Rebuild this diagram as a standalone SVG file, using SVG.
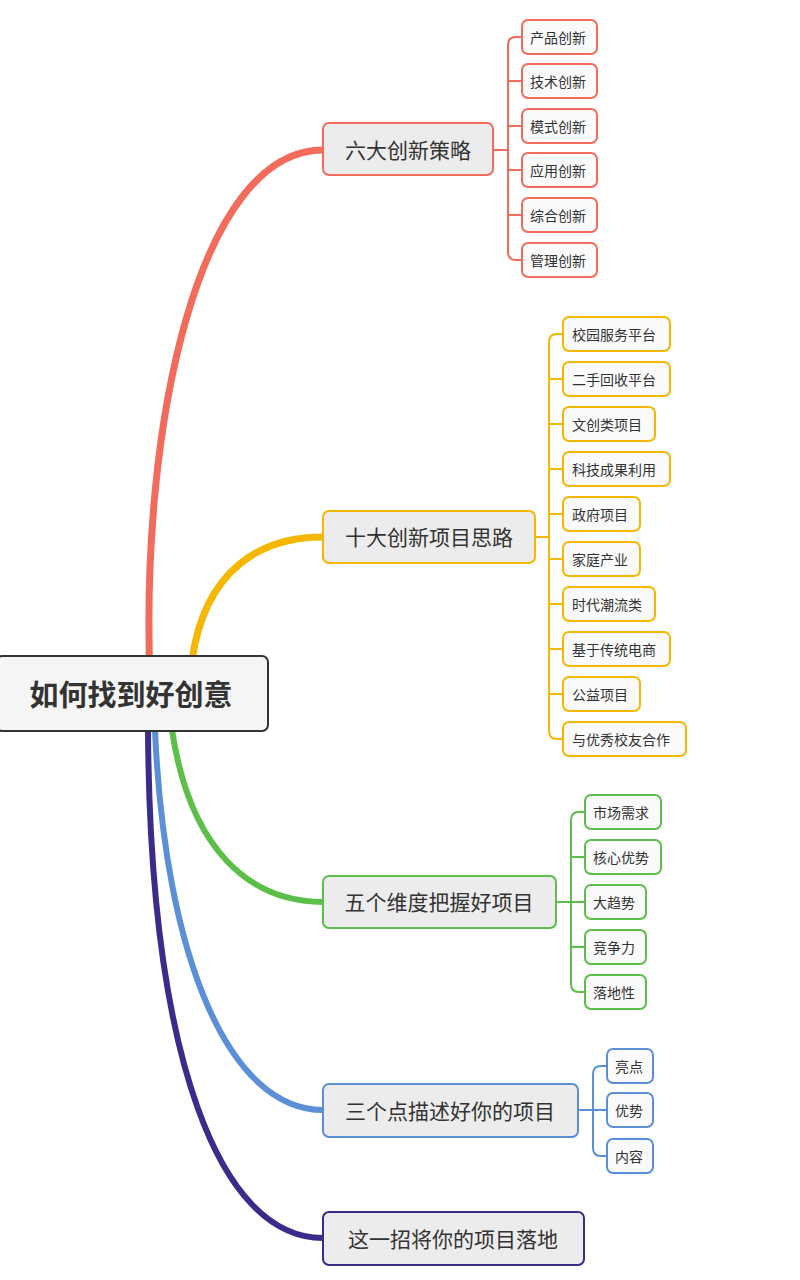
<svg xmlns="http://www.w3.org/2000/svg" width="800" height="1280" viewBox="0 0 800 1280">
<style>
text{font-family:"Noto Sans CJK SC","Noto Sans",sans-serif;fill:#333;dominant-baseline:central}
.b{fill:#ececec;stroke-width:2}
.c{fill:#fafafa;stroke-width:2}
.bt{font-size:21px;text-anchor:middle}
.ct{font-size:14px}
.r{stroke:#f26b5b}.o{stroke:#f5b700}.g{stroke:#5cbf4a}.u{stroke:#5b90d8}.p{stroke:#3b2c8c}
.m{fill:none;stroke-linecap:round}
.l{fill:none;stroke-width:2}
</style>
<rect width="800" height="1280" fill="#fff"/>
<g id="connectors">
<path class="m r" stroke-width="7" d="M150,680 C140,420 200,150 323,150"/>
<path class="m o" stroke-width="7" d="M192,660 C205,570 260,537 323,537"/>
<path class="m g" stroke-width="6" d="M172,730 C190,850 250,902 323,902"/>
<path class="m u" stroke-width="6" d="M155,730 C165,960 230,1110 323,1110"/>
<path class="m p" stroke-width="6" d="M148,730 C150,1060 220,1238 323,1238"/>
<path class="l r" d="M493,150 H508 M522,37 H516 Q508,37 508,45 V252 Q508,260 516,260 H522 M508,81 H522 M508,126 H522 M508,170 H522 M508,215 H522"/>
<path class="l o" d="M535,537 H549 M563,334 H557 Q549,334 549,342 V731 Q549,739 557,739 H563 M549,379 H563 M549,424 H563 M549,469 H563 M549,514 H563 M549,559 H563 M549,604 H563 M549,649 H563 M549,694 H563"/>
<path class="l g" d="M556,902 H571 M585,812 H579 Q571,812 571,820 V984 Q571,992 579,992 H585 M571,857 H585 M571,902 H585 M571,947 H585"/>
<path class="l u" d="M578,1110 H593 M607,1066 H601 Q593,1066 593,1074 V1148 Q593,1156 601,1156 H607 M593,1110 H607"/>
</g>
<g id="root"><rect x="-4" y="656" width="272" height="75" rx="6" fill="#f5f5f5" stroke="#333" stroke-width="2"/><text x="131" y="693" font-size="29" font-weight="bold" text-anchor="middle" fill="#111">如何找到好创意</text></g>
<g id="b1"><rect class="b r" x="323" y="123" width="170" height="52" rx="6"/><text class="bt" x="408" y="149">六大创新策略</text></g>
<g id="b2"><rect class="b o" x="323" y="511" width="212" height="52" rx="6"/><text class="bt" x="429" y="536">十大创新项目思路</text></g>
<g id="b3"><rect class="b g" x="323" y="876" width="233" height="52" rx="6"/><text class="bt" x="439" y="901">五个维度把握好项目</text></g>
<g id="b4"><rect class="b u" x="323" y="1084" width="255" height="53" rx="6"/><text class="bt" x="450" y="1110">三个点描述好你的项目</text></g>
<g id="b5"><rect class="b p" x="323" y="1212" width="261" height="53" rx="6"/><text class="bt" x="453" y="1238">这一招将你的项目落地</text></g>
<g id="c1">
<rect class="c r" x="522" y="20" width="75" height="34" rx="6"/><text class="ct" x="530" y="37">产品创新</text>
<rect class="c r" x="522" y="64" width="75" height="34" rx="6"/><text class="ct" x="530" y="81">技术创新</text>
<rect class="c r" x="522" y="109" width="75" height="34" rx="6"/><text class="ct" x="530" y="126">模式创新</text>
<rect class="c r" x="522" y="153" width="75" height="34" rx="6"/><text class="ct" x="530" y="170">应用创新</text>
<rect class="c r" x="522" y="198" width="75" height="34" rx="6"/><text class="ct" x="530" y="215">综合创新</text>
<rect class="c r" x="522" y="243" width="75" height="34" rx="6"/><text class="ct" x="530" y="260">管理创新</text>
</g>
<g id="c2">
<rect class="c o" x="563" y="317" width="107" height="34" rx="6"/><text class="ct" x="572" y="334">校园服务平台</text>
<rect class="c o" x="563" y="362" width="107" height="34" rx="6"/><text class="ct" x="572" y="379">二手回收平台</text>
<rect class="c o" x="563" y="407" width="92" height="34" rx="6"/><text class="ct" x="572" y="424">文创类项目</text>
<rect class="c o" x="563" y="452" width="107" height="34" rx="6"/><text class="ct" x="572" y="469">科技成果利用</text>
<rect class="c o" x="563" y="497" width="77" height="34" rx="6"/><text class="ct" x="572" y="514">政府项目</text>
<rect class="c o" x="563" y="542" width="77" height="34" rx="6"/><text class="ct" x="572" y="559">家庭产业</text>
<rect class="c o" x="563" y="587" width="92" height="34" rx="6"/><text class="ct" x="572" y="604">时代潮流类</text>
<rect class="c o" x="563" y="632" width="107" height="34" rx="6"/><text class="ct" x="572" y="649">基于传统电商</text>
<rect class="c o" x="563" y="677" width="77" height="34" rx="6"/><text class="ct" x="572" y="694">公益项目</text>
<rect class="c o" x="563" y="722" width="123" height="34" rx="6"/><text class="ct" x="572" y="739">与优秀校友合作</text>
</g>
<g id="c3">
<rect class="c g" x="585" y="795" width="76" height="34" rx="6"/><text class="ct" x="593" y="812">市场需求</text>
<rect class="c g" x="585" y="840" width="76" height="34" rx="6"/><text class="ct" x="593" y="857">核心优势</text>
<rect class="c g" x="585" y="885" width="61" height="34" rx="6"/><text class="ct" x="593" y="902">大趋势</text>
<rect class="c g" x="585" y="930" width="61" height="34" rx="6"/><text class="ct" x="593" y="947">竞争力</text>
<rect class="c g" x="585" y="975" width="61" height="34" rx="6"/><text class="ct" x="593" y="992">落地性</text>
</g>
<g id="c4">
<rect class="c u" x="607" y="1049" width="46" height="34" rx="6"/><text class="ct" x="615" y="1066">亮点</text>
<rect class="c u" x="607" y="1093" width="46" height="34" rx="6"/><text class="ct" x="615" y="1110">优势</text>
<rect class="c u" x="607" y="1139" width="46" height="34" rx="6"/><text class="ct" x="615" y="1156">内容</text>
</g>
</svg>
